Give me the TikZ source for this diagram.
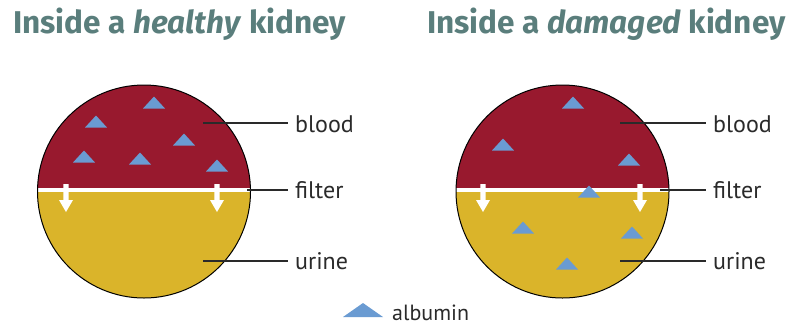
\documentclass[tikz,border=0pt]{standalone}
\usepackage{fontspec}
\setmainfont{PT Sans}
\newfontfamily\titlefont{Fira Sans}
\begin{document}
\definecolor{titlecol}{HTML}{5A7E7C}
\definecolor{bloodcol}{HTML}{98192E}
\definecolor{urinecol}{HTML}{DAB42A}
\definecolor{albcol}{HTML}{6A9BD2}
\definecolor{leadcol}{HTML}{2A2A2A}
\begin{tikzpicture}[x=1pt,y=-1pt,
  title/.style={anchor=base west,inner sep=0pt,text=titlecol,font=\titlefont\bfseries\fontsize{31.5}{36}\selectfont},
  lab/.style={anchor=west,inner sep=0pt,text=leadcol,font=\fontsize{24}{28}\selectfont},
  leader/.style={draw=leadcol,line width=1.5pt},
  rim/.style={draw=black,line width=1pt},
  alb/.pic={\fill[albcol] (-11,5.5)--(11,5.5)--(0,-6.5)--cycle;},
  bigalb/.pic={\fill[albcol] (-20,7)--(20,7)--(0,-7)--cycle;},
  flow/.pic={\fill[white] (-2.6,-7)--(2.6,-7)--(2.6,9)--(7,9)--(0,21)--(-7,9)--(-2.6,9)--cycle;}
]
\useasboundingbox (0,0) rectangle (793,333);
% titles
\node[title] (t1) at (13,33) {Inside a \textit{healthy} kidney};
\node[title] (t2) at (427,33) {Inside a \textit{damaged} kidney};

% ---------- left circle ----------
\coordinate (c1) at (144,191.5);
\begin{scope}
  \clip (c1) circle[radius=106.5];
  \fill[bloodcol] (30,80) rectangle (260,189.5);
  \fill[urinecol] (30,189.5) rectangle (260,305);
  \fill[white] (30,187.5) rectangle (260,192);
\end{scope}
\draw[rim] (c1) circle[radius=106.5];
\pic at (66,191) {flow};
\pic at (217,191) {flow};
\pic at (154,103) {alb};
\pic at (96,122) {alb};
\pic at (184,140) {alb};
\pic at (84,157) {alb};
\pic at (140,159) {alb};
\pic at (217,166) {alb};
% labels
\node[lab] (b1) at (295,124) {blood};
\node[lab] (f1) at (295,190) {filter};
\node[lab] (u1) at (295,261) {urine};
\coordinate (b1s) at (203,123);
\coordinate (f1s) at (247,190);
\coordinate (u1s) at (203,261);
\draw[leader] (b1s) -- ([xshift=-7pt]b1s -| b1.west);
\draw[leader] (f1s) -- ([xshift=-7pt]f1s -| f1.west);
\draw[leader] (u1s) -- ([xshift=-7pt]u1s -| u1.west);

% ---------- right circle ----------
\coordinate (c2) at (562.5,191.5);
\begin{scope}
  \clip (c2) circle[radius=106.5];
  \fill[bloodcol] (450,80) rectangle (680,189.5);
  \fill[urinecol] (450,189.5) rectangle (680,305);
  \fill[white] (450,187.5) rectangle (680,192);
\end{scope}
\draw[rim] (c2) circle[radius=106.5];
\pic at (483,191) {flow};
\pic at (640,191) {flow};
\pic at (573,103) {alb};
\pic at (503,145) {alb};
\pic at (629,160) {alb};
\pic at (589,192) {alb};
\pic at (523,228) {alb};
\pic at (632,233) {alb};
\pic at (567,264) {alb};
\node[lab] (b2) at (713,124) {blood};
\node[lab] (f2) at (713,190) {filter};
\node[lab] (u2) at (713,261) {urine};
\coordinate (b2s) at (620,123);
\coordinate (f2s) at (660,190);
\coordinate (u2s) at (620,261);
\draw[leader] (b2s) -- ([xshift=-7pt]b2s -| b2.west);
\draw[leader] (f2s) -- ([xshift=-7pt]f2s -| f2.west);
\draw[leader] (u2s) -- ([xshift=-7pt]u2s -| u2.west);

% legend
\pic at (363,310) {bigalb};
\node[lab,font=\fontsize{22}{26}\selectfont] (leg) at (392,313) {albumin};
\end{tikzpicture}
\end{document}
